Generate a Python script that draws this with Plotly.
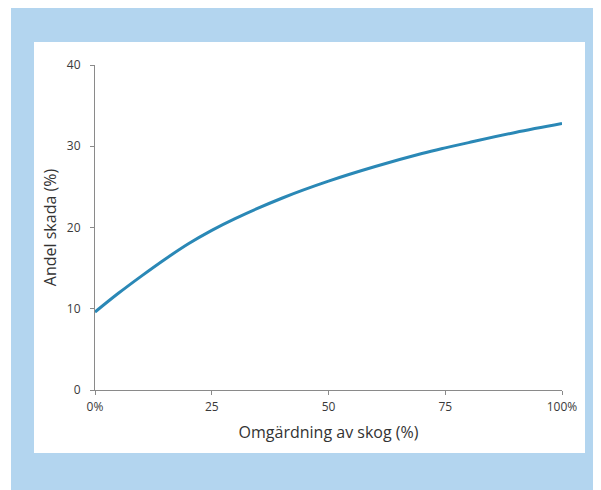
import plotly.graph_objects as go

# Data
omgardning = [0, 5, 10, 15, 20, 25, 30, 40, 50, 60, 70, 75, 80, 90, 100]
andel_skada = [9.6, 11.9, 14.05, 16.1, 18.0, 19.65, 21.1, 23.6, 25.7, 27.5, 29.1, 29.8, 30.45, 31.7, 32.8]

x_tickvals = [0, 25, 50, 75, 100]
x_ticktext = ["0%", "25", "50", "75", "100%"]
y_tickvals = [0, 10, 20, 30, 40]

OFF = 8  # page body margin
W, H = 601 - OFF, 490 - OFF
L, R, T, B = 95 - OFF, 601 - 562, 65 - OFF, 490 - 390
pw, ph = W - L - R, H - T - B

def px_x(p):
    return (p - OFF - L) / pw

def px_y(p):
    return (H - B - (p - OFF)) / ph

fig = go.Figure()
fig.add_trace(go.Scatter(
    x=omgardning, y=andel_skada, mode="lines",
    line=dict(color="#2a88b6", width=3, shape="spline", smoothing=1.0),
    cliponaxis=False, hoverinfo="skip", showlegend=False,
))

shapes = [
    dict(type="rect", xref="paper", yref="paper", layer="below",
         x0=px_x(11), x1=px_x(605), y0=px_y(495), y1=px_y(5),
         fillcolor="#b3d5ef", line=dict(width=0)),
    dict(type="rect", xref="paper", yref="paper", layer="below",
         x0=px_x(34), x1=px_x(585), y0=px_y(453), y1=px_y(42),
         fillcolor="#ffffff", line=dict(width=0)),
]

fig.update_layout(
    width=W, height=H,
    margin=dict(l=L, r=R, t=T, b=B),
    paper_bgcolor="white", plot_bgcolor="rgba(0,0,0,0)",
    font=dict(family="Open Sans, Noto Sans, sans-serif", color="#333333"),
    shapes=shapes,
    showlegend=False,
    xaxis=dict(
        range=[0, 100], tickvals=x_tickvals, ticktext=x_ticktext,
        showgrid=False, zeroline=False, showline=True, linecolor="#8a8a8a", linewidth=1,
        ticks="outside", ticklen=4, tickcolor="#8a8a8a", ticklabelstandoff=2,
        tickfont=dict(size=12, color="#3a3a3a"),
        title=dict(text="Omgärdning av skog (%)", font=dict(size=16, color="#333333"), standoff=12),
    ),
    yaxis=dict(
        range=[0, 40], tickvals=y_tickvals,
        showgrid=False, zeroline=False, showline=True, linecolor="#8a8a8a", linewidth=1,
        ticks="outside", ticklen=4, tickcolor="#8a8a8a", ticklabelstandoff=7,
        tickfont=dict(size=12, color="#3a3a3a"),
        title=dict(text="Andel skada (%)", font=dict(size=16, color="#333333"), standoff=6),
    ),
)

fig.write_html("out.html")
